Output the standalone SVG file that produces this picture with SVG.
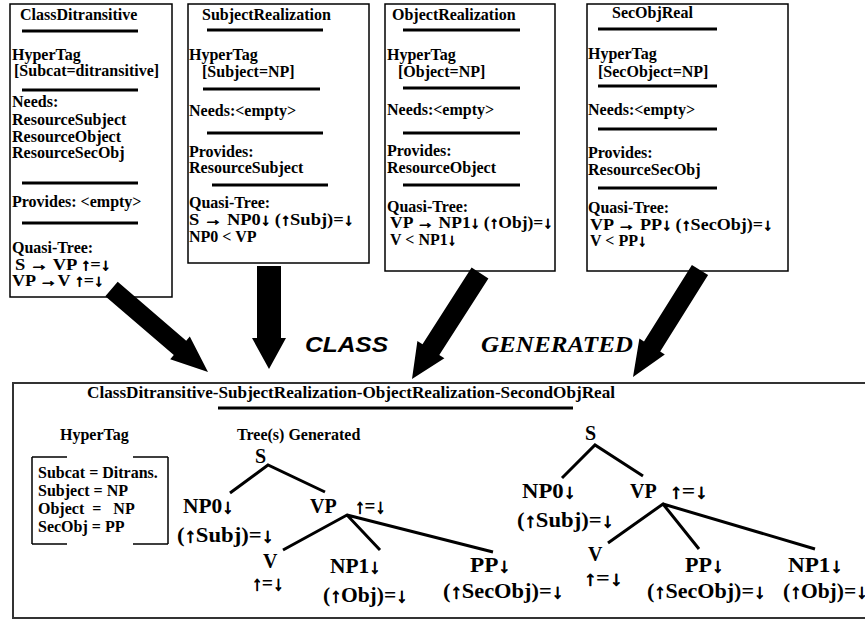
<svg xmlns="http://www.w3.org/2000/svg" width="865" height="620" viewBox="0 0 865 620">
<style>
.t{font-family:"Liberation Serif","DejaVu Serif",serif;font-weight:bold;font-size:16px;fill:#000}
.tr{font-family:"Liberation Serif","DejaVu Serif",serif;font-weight:bold;font-size:20px;fill:#000}
.a{stroke:#000;stroke-width:0.9;stroke-linejoin:round}
.box{fill:#fff;stroke:#000;stroke-width:1.5}
.rule{stroke:#000;stroke-width:3}
.edge{stroke:#000;stroke-width:3;fill:none}
.arrow{fill:#000}
</style>
<rect width="865" height="620" fill="#fff"/>

<g id="bottom-box">
<rect x="13" y="383" width="860" height="235" fill="#fff" stroke="#333" stroke-width="2"/>
<text class="t" x="87" y="398" textLength="528" lengthAdjust="spacingAndGlyphs">ClassDitransitive-SubjectRealization-ObjectRealization-SecondObjReal</text>
<line class="rule" x1="218" y1="408" x2="573" y2="408"/>
<text class="t" x="60" y="440">HyperTag</text>
<text class="t" x="237" y="440">Tree(s) Generated</text>
</g>

<g id="hypertag-box">
<path d="M32 457H67M133 457H168M32 457V544M168 457V544M32 544H67M133 544H168" stroke="#000" stroke-width="1.5" fill="none"/>
<text class="t" x="38" y="478">Subcat = Ditrans.</text>
<text class="t" x="38" y="496">Subject = NP</text>
<text class="t" x="38" y="514" xml:space="preserve">Object  =   NP</text>
<text class="t" x="38" y="532">SecObj = PP</text>
</g>

<g id="box-classditransitive">
<rect class="box" x="10" y="4" width="162" height="293"/>
<text class="t" x="20" y="20">ClassDitransitive</text>
<line class="rule" x1="22" y1="31" x2="138" y2="31"/>
<text class="t" x="12" y="60">HyperTag</text>
<text class="t" x="14" y="76">[Subcat=ditransitive]</text>
<line class="rule" x1="22" y1="90" x2="138" y2="90"/>
<text class="t" x="12" y="107">Needs:</text>
<text class="t" x="12" y="125">ResourceSubject</text>
<text class="t" x="12" y="142">ResourceObject</text>
<text class="t" x="12" y="158">ResourceSecObj</text>
<line class="rule" x1="22" y1="183" x2="138" y2="183"/>
<text class="t" x="12" y="207">Provides: &lt;empty&gt;</text>
<line class="rule" x1="22" y1="223" x2="138" y2="223"/>
<text class="t" x="12" y="253">Quasi-Tree:</text>
<text class="t" x="15" y="270" textLength="95" lengthAdjust="spacingAndGlyphs">S <tspan class="a">→</tspan> VP <tspan class="a">↑</tspan>=<tspan class="a">↓</tspan></text>
<text class="t" x="12" y="286" textLength="91" lengthAdjust="spacingAndGlyphs">VP <tspan class="a">→</tspan>V <tspan class="a">↑</tspan>=<tspan class="a">↓</tspan></text>
</g>

<g id="box-subjectrealization">
<rect class="box" x="188" y="4" width="181" height="259"/>
<text class="t" x="202" y="20">SubjectRealization</text>
<line class="rule" x1="207" y1="30" x2="323" y2="30"/>
<text class="t" x="189" y="60">HyperTag</text>
<text class="t" x="202" y="77">[Subject=NP]</text>
<line class="rule" x1="203" y1="89" x2="320" y2="89"/>
<text class="t" x="189" y="116">Needs:&lt;empty&gt;</text>
<line class="rule" x1="207" y1="133" x2="323" y2="133"/>
<text class="t" x="189" y="157">Provides:</text>
<text class="t" x="189" y="173">ResourceSubject</text>
<line class="rule" x1="212" y1="185" x2="328" y2="185"/>
<text class="t" x="189" y="208">Quasi-Tree:</text>
<text class="t" x="189" y="225" textLength="164" lengthAdjust="spacingAndGlyphs">S <tspan class="a">→</tspan> NP0<tspan class="a">↓</tspan> (<tspan class="a">↑</tspan>Subj)=<tspan class="a">↓</tspan></text>
<text class="t" x="189" y="242">NP0 &lt; VP</text>
</g>

<g id="box-objectrealization">
<rect class="box" x="385" y="4" width="170" height="267"/>
<text class="t" x="392" y="20">ObjectRealization</text>
<line class="rule" x1="403" y1="30" x2="520" y2="30"/>
<text class="t" x="387" y="60">HyperTag</text>
<text class="t" x="398" y="77">[Object=NP]</text>
<line class="rule" x1="403" y1="88" x2="520" y2="88"/>
<text class="t" x="387" y="115">Needs:&lt;empty&gt;</text>
<line class="rule" x1="403" y1="133" x2="520" y2="133"/>
<text class="t" x="387" y="156">Provides:</text>
<text class="t" x="387" y="173">ResourceObject</text>
<line class="rule" x1="403" y1="185" x2="520" y2="185"/>
<text class="t" x="387" y="212">Quasi-Tree:</text>
<text class="t" x="390" y="228" textLength="162" lengthAdjust="spacingAndGlyphs">VP <tspan class="a">→</tspan> NP1<tspan class="a">↓</tspan> (<tspan class="a">↑</tspan>Obj)=<tspan class="a">↓</tspan></text>
<text class="t" x="390" y="245">V &lt; NP1<tspan class="a">↓</tspan></text>
</g>

<g id="box-secobjreal">
<rect class="box" x="587" y="4" width="201" height="267"/>
<text class="t" x="612" y="18">SecObjReal</text>
<line class="rule" x1="598" y1="29" x2="717" y2="29"/>
<text class="t" x="588" y="59">HyperTag</text>
<text class="t" x="598" y="77">[SecObject=NP]</text>
<line class="rule" x1="598" y1="86" x2="717" y2="86"/>
<text class="t" x="588" y="115">Needs:&lt;empty&gt;</text>
<line class="rule" x1="598" y1="129" x2="717" y2="129"/>
<text class="t" x="588" y="158">Provides:</text>
<text class="t" x="588" y="175">ResourceSecObj</text>
<line class="rule" x1="598" y1="188" x2="717" y2="188"/>
<text class="t" x="588" y="213">Quasi-Tree:</text>
<text class="t" x="590" y="230" textLength="182" lengthAdjust="spacingAndGlyphs">VP <tspan class="a">→</tspan> PP<tspan class="a">↓</tspan> (<tspan class="a">↑</tspan>SecObj)=<tspan class="a">↓</tspan></text>
<text class="t" x="590" y="246">V &lt; PP<tspan class="a">↓</tspan></text>
</g>

<g id="connectors">
<polygon class="arrow" points="117.7,281.8 186.2,340.7 189.8,336.5 208,372 170.2,359.3 173.8,355.1 105.3,296.2"/>
<polygon class="arrow" points="257,266 281,266 281,338 286,338 269,369 252,338 257,338"/>
<polygon class="arrow" points="488.4,278.4 439.3,355 444.4,358.2 412,379 417.4,341 422.5,344.2 471.6,267.6"/>
<polygon class="arrow" points="691.9,265 708.1,275 660.2,351.5 664.8,354.5 633,377 639.4,338.5 644,341.5"/>
<text x="305" y="352" font-family="'Liberation Sans',Arial,sans-serif" font-weight="bold" font-style="italic" font-size="22" textLength="83" lengthAdjust="spacingAndGlyphs">CLASS</text>
<text x="481" y="352" font-family="'Liberation Serif','Times New Roman',serif" font-weight="bold" font-style="italic" font-size="24" textLength="152" lengthAdjust="spacingAndGlyphs">GENERATED</text>
</g>

<g id="tree1">
<path class="edge" d="M230 493L268 465L325 492M283 550L347 515L380 550M347 515L493 552"/>
<text class="tr" x="255" y="463">S</text>
<text class="tr" x="183" y="513" textLength="50" lengthAdjust="spacingAndGlyphs">NP0<tspan class="a">↓</tspan></text>
<text class="tr" x="177" y="542" textLength="96" lengthAdjust="spacingAndGlyphs">(<tspan class="a">↑</tspan>Subj)=<tspan class="a">↓</tspan></text>
<text class="tr" x="310" y="513">VP</text>
<text class="tr" x="355" y="513" textLength="30" lengthAdjust="spacingAndGlyphs"><tspan class="a">↑</tspan>=<tspan class="a">↓</tspan></text>
<text class="tr" x="263" y="568">V</text>
<text class="tr" x="252" y="590" textLength="31" lengthAdjust="spacingAndGlyphs"><tspan class="a">↑</tspan>=<tspan class="a">↓</tspan></text>
<text class="tr" x="330" y="573" textLength="50" lengthAdjust="spacingAndGlyphs">NP1<tspan class="a">↓</tspan></text>
<text class="tr" x="323" y="602" textLength="84" lengthAdjust="spacingAndGlyphs">(<tspan class="a">↑</tspan>Obj)=<tspan class="a">↓</tspan></text>
<text class="tr" x="470" y="572" textLength="40" lengthAdjust="spacingAndGlyphs">PP<tspan class="a">↓</tspan></text>
<text class="tr" x="443" y="598" textLength="120" lengthAdjust="spacingAndGlyphs">(<tspan class="a">↑</tspan>SecObj)=<tspan class="a">↓</tspan></text>
</g>

<g id="tree2">
<path class="edge" d="M562 478L595 445L643 476M608 543L663 504L699 549M663 504L815 549"/>
<text class="tr" x="585" y="440">S</text>
<text class="tr" x="522" y="498" textLength="53" lengthAdjust="spacingAndGlyphs">NP0<tspan class="a">↓</tspan></text>
<text class="tr" x="517" y="527" textLength="96" lengthAdjust="spacingAndGlyphs">(<tspan class="a">↑</tspan>Subj)=<tspan class="a">↓</tspan></text>
<text class="tr" x="630" y="498">VP</text>
<text class="tr" x="670" y="498" textLength="37" lengthAdjust="spacingAndGlyphs"><tspan class="a">↑</tspan>=<tspan class="a">↓</tspan></text>
<text class="tr" x="588" y="561">V</text>
<text class="tr" x="584" y="585" textLength="38" lengthAdjust="spacingAndGlyphs"><tspan class="a">↑</tspan>=<tspan class="a">↓</tspan></text>
<text class="tr" x="685" y="572" textLength="38" lengthAdjust="spacingAndGlyphs">PP<tspan class="a">↓</tspan></text>
<text class="tr" x="647" y="598" textLength="118" lengthAdjust="spacingAndGlyphs">(<tspan class="a">↑</tspan>SecObj)=<tspan class="a">↓</tspan></text>
<text class="tr" x="788" y="572" textLength="54" lengthAdjust="spacingAndGlyphs">NP1<tspan class="a">↓</tspan></text>
<text class="tr" x="783" y="598" textLength="84" lengthAdjust="spacingAndGlyphs">(<tspan class="a">↑</tspan>Obj)=<tspan class="a">↓</tspan></text>
</g>
</svg>
